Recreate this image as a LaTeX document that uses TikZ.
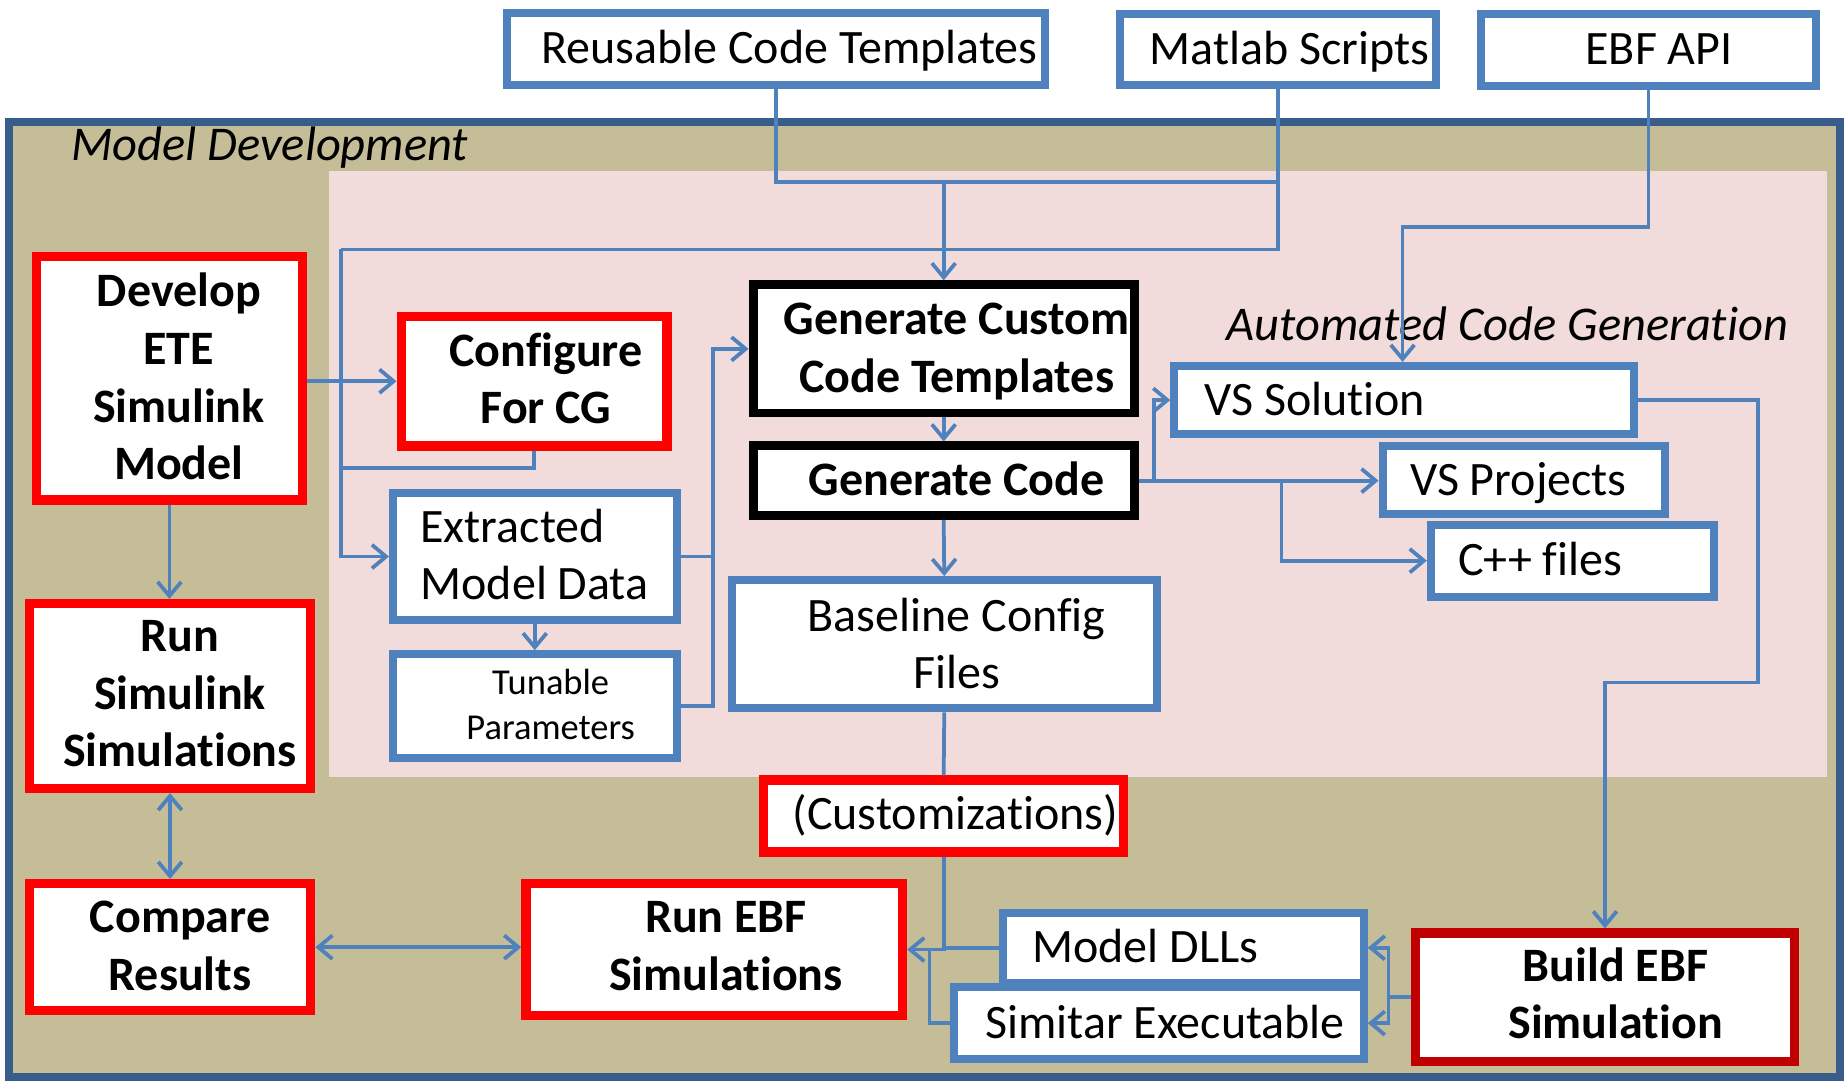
\documentclass[tikz,border=0pt]{standalone}
\usepackage{fontspec}
\setmainfont{Carlito}[Ligatures={NoCommon}]
\usetikzlibrary{arrows.meta}
\definecolor{cblue}{HTML}{4F81BD}
\definecolor{cframe}{HTML}{385D8A}
\definecolor{ckhaki}{HTML}{C4BD97}
\definecolor{cpink}{HTML}{F2DCDB}
\definecolor{cred}{HTML}{FF0000}
\definecolor{cdred}{HTML}{C00000}
\newcommand\mkbox[6]{\node[#2, minimum width={(#5-#3)*0.5pt}, minimum height={(#6-#4)*0.5pt}] (#1) at ({(#3+#5)/2},{(#4+#6)/2}) {};}
\begin{document}
\begin{tikzpicture}[x=0.5pt,y=-0.5pt,
  bluebox/.style={draw=cblue, line width=3.4pt, fill=white, inner sep=0pt},
  redbox/.style={draw=cred, line width=4pt, fill=white, inner sep=0pt},
  dredbox/.style={draw=cdred, line width=4pt, fill=white, inner sep=0pt},
  blackbox/.style={draw=black, line width=3.8pt, fill=white, inner sep=0pt},
  conn/.style={draw=cblue, line width=1.6pt},
  arr/.style={-{Straight Barb[length=6pt,width=10pt]}},
  darr/.style={{Straight Barb[length=6pt,width=10pt]}-{Straight Barb[length=6pt,width=10pt]}},
  txt/.style={inner sep=0pt, align=center, font=\fontsize{20.4pt}{24.5pt}\selectfont},
  btxt/.style={txt, font=\bfseries\fontsize{20.4pt}{24.5pt}\selectfont},
  stxt/.style={inner sep=0pt, align=center, font=\fontsize{15.5pt}{19pt}\selectfont},
  itxt/.style={inner sep=0pt, font=\itshape\fontsize{20.6pt}{24.5pt}\selectfont}]
\fill[white] (0,0) rectangle (1568,919);
\useasboundingbox (0,0) rectangle (1568,919);
% frame and background regions
\draw[draw=cframe, fill=ckhaki, line width=3.5pt] (7.5,104) rectangle (1564,915);
\fill[cpink] (280,145) rectangle (1553,660);
\node[itxt, anchor=west] (tmodeldev) at (60,125) {Model Development};
\node[itxt, anchor=east] (tacg) at (1520,275) {Automated Code Generation};
% top boxes
\mkbox{reuse}{bluebox}{431}{11}{888}{72}
\mkbox{matlab}{bluebox}{952}{12}{1220}{72}
\mkbox{ebf}{bluebox}{1259}{12}{1543}{73}
% left column
\mkbox{develop}{redbox}{31}{218}{257}{425}
\mkbox{runsim}{redbox}{25}{513}{264}{670}
\mkbox{compare}{redbox}{25}{751}{264}{859}
\mkbox{runebf}{redbox}{447}{751}{767}{863}
\mkbox{configure}{redbox}{341}{269}{567}{379}
\mkbox{custom}{redbox}{649}{663}{955}{724}
\mkbox{buildebf}{dredbox}{1203}{793}{1525}{902}
% black boxes
\mkbox{gencustom}{blackbox}{640}{242}{964}{351}
\mkbox{gencode}{blackbox}{640}{379}{964}{438}
% blue boxes
\mkbox{vssol}{bluebox}{998}{311}{1389}{369}
\mkbox{vsproj}{bluebox}{1175}{379}{1415}{437}
\mkbox{cpp}{bluebox}{1216}{446}{1457}{507}
\mkbox{extracted}{bluebox}{334}{419}{575}{527}
\mkbox{tunable}{bluebox}{334}{556}{575}{644}
\mkbox{baseline}{bluebox}{622}{493}{983}{602}
\mkbox{modeldll}{bluebox}{852}{776}{1159}{835}
\mkbox{simitar}{bluebox}{811}{839}{1159}{900}
% texts
\node[txt] (treuse) at (671,44) {\strut Reusable Code Templates};
\node[txt] (tmatlab) at (1096,45) {\strut Matlab Scripts};
\node[txt] (tebf) at (1410,45) {\strut EBF API};
\node[btxt] (tdevelop) at (152,324.5) {\strut Develop\\\strut ETE\\\strut Simulink\\\strut Model};
\node[btxt] (trunsim) at (153,593) {\strut Run\\\strut Simulink\\\strut Simulations};
\node[btxt] (tcompare) at (153,807.5) {\strut Compare\\\strut Results};
\node[btxt] (trunebf) at (617,807.5) {\strut Run EBF\\\strut Simulations};
\node[btxt] (tconfigure) at (464,326) {\strut Configure\\\strut For CG};
\node[txt] (tcustom) at (812,695) {\strut (Customizations)};
\node[btxt] (tbuildebf) at (1373,848.5) {\strut Build EBF\\\strut Simulation};
\node[btxt] (tgencustom) at (813,299) {\strut Generate Custom\\\strut Code Templates};
\node[btxt] (tgencode) at (813,411) {\strut Generate Code};
\node[txt, anchor=west] (tvssol) at (1023,343) {\strut VS Solution};
\node[txt, anchor=west] (tvsproj) at (1198,411) {\strut VS Projects};
\node[txt, anchor=west] (tcpp) at (1239,479) {\strut C++ files};
\node[txt, align=left, anchor=west] (textracted) at (357,475.5) {\strut Extracted\\\strut Model Data};
\node[stxt] (ttunable) at (468,601.5) {\strut Tunable\\\strut Parameters};
\node[txt] (tbaseline) at (813,551) {\strut Baseline Config\\\strut Files};
\node[txt, anchor=west] (tmodeldll) at (877,808) {\strut Model DLLs};
\node[txt, anchor=west] (tsimitar) at (837,873) {\strut Simitar Executable};
% junction coordinates
\coordinate (j1) at (1086,155);
\coordinate (j2) at (290,212);
\coordinate (j3) at (290,398);
\coordinate (j4) at (606,296.5);
\coordinate (j5) at (981,408.5);
\coordinate (j6) at (1089,408.5);
\coordinate (j7) at (790,807);
\coordinate (j8) at (1180,847.5);
\coordinate (j9) at (1192,193);
\coordinate (j10) at (1494,580);
% connectors
\draw[conn] (reuse.south) |- (j1) -- (matlab.south);
\draw[conn,arr] (gencustom.north |- j1) -- (gencustom.north);
\draw[conn,arr] (j2) |- (extracted.west);
\draw[conn] (matlab.south) |- (j2);
\draw[conn,arr] (configure.west -| develop.east) -- (configure.west);
\draw[conn] (configure.south) |- (j3);
\draw[conn,arr] (extracted.south) -- (tunable.north);
\draw[conn] (extracted.east) -- (extracted.east -| j4);
\draw[conn,arr] (tunable.east) -| (j4) -- (gencustom.west);
\draw[conn,arr] (gencustom.south) -- (gencode.north);
\draw[conn,arr] (gencode.east) -- (vsproj.west |- gencode.east);
\draw[conn,arr] (j5) |- (vssol.west);
\draw[conn,arr] (j6) |- (cpp.west);
\draw[conn,arr] (gencode.south) -- (baseline.north);
\draw[conn] (baseline.south) -- (custom.north);
\draw[conn,arr] (custom.south) |- (runebf.east);
\draw[conn] (modeldll.west) -- (custom.south |- modeldll.west);
\draw[conn] (simitar.west) -| (j7);
\draw[conn] (buildebf.west) -- (j8);
\draw[conn,arr] (j8) |- (modeldll.east);
\draw[conn,arr] (j8) |- (simitar.east);
\draw[conn,arr] (vssol.east) -| (j10) -| (buildebf.north);
\draw[conn,arr] (ebf.south) |- (j9) -- (j9 |- vssol.north);
\draw[conn,arr] (develop.south) -- (runsim.north -| develop.south);
\draw[conn,darr] (runsim.south) -- (compare.north);
\draw[conn,darr] (compare.east) -- (runebf.west |- compare.east);
\end{tikzpicture}
\end{document}
